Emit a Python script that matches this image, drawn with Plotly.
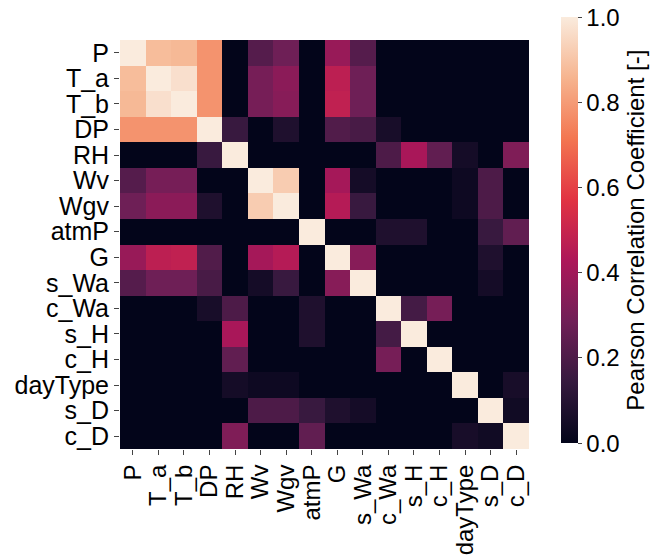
import plotly.graph_objects as go

labels = ["P", "T_a", "T_b", "DP", "RH", "Wv", "Wgv", "atmP", "G", "s_Wa",
          "c_Wa", "s_H", "c_H", "dayType", "s_D", "c_D"]

corr = [
    # P    T_a   T_b   DP    RH    Wv    Wgv   atmP  G     s_Wa  c_Wa  s_H   c_H   dayT  s_D   c_D
    [1.00, 0.88, 0.87, 0.78, 0.00, 0.22, 0.28, 0.00, 0.38, 0.22, 0.00, 0.00, 0.00, 0.00, 0.00, 0.00],  # P
    [0.88, 1.00, 0.97, 0.78, 0.00, 0.30, 0.35, 0.00, 0.47, 0.28, 0.00, 0.00, 0.00, 0.00, 0.00, 0.00],  # T_a
    [0.87, 0.97, 1.00, 0.78, 0.00, 0.30, 0.34, 0.00, 0.48, 0.28, 0.00, 0.00, 0.00, 0.00, 0.00, 0.00],  # T_b
    [0.78, 0.78, 0.78, 1.00, 0.15, 0.00, 0.08, 0.00, 0.21, 0.19, 0.06, 0.00, 0.00, 0.00, 0.00, 0.00],  # DP
    [0.00, 0.00, 0.00, 0.15, 1.00, 0.00, 0.00, 0.00, 0.00, 0.00, 0.20, 0.42, 0.25, 0.05, 0.00, 0.32],  # RH
    [0.22, 0.30, 0.30, 0.00, 0.00, 1.00, 0.92, 0.00, 0.41, 0.05, 0.00, 0.00, 0.00, 0.03, 0.20, 0.00],  # Wv
    [0.28, 0.35, 0.35, 0.08, 0.00, 0.92, 1.00, 0.00, 0.45, 0.15, 0.00, 0.00, 0.00, 0.03, 0.20, 0.00],  # Wgv
    [0.00, 0.00, 0.00, 0.00, 0.00, 0.00, 0.00, 1.00, 0.00, 0.00, 0.08, 0.08, 0.00, 0.00, 0.15, 0.25],  # atmP
    [0.38, 0.47, 0.48, 0.21, 0.00, 0.41, 0.45, 0.00, 1.00, 0.34, 0.00, 0.00, 0.00, 0.00, 0.08, 0.00],  # G
    [0.22, 0.28, 0.28, 0.19, 0.00, 0.05, 0.15, 0.00, 0.34, 1.00, 0.00, 0.00, 0.00, 0.00, 0.05, 0.00],  # s_Wa
    [0.00, 0.00, 0.00, 0.06, 0.20, 0.00, 0.00, 0.08, 0.00, 0.00, 1.00, 0.18, 0.30, 0.00, 0.00, 0.00],  # c_Wa
    [0.00, 0.00, 0.00, 0.00, 0.42, 0.00, 0.00, 0.08, 0.00, 0.00, 0.18, 1.00, 0.00, 0.00, 0.00, 0.00],  # s_H
    [0.00, 0.00, 0.00, 0.00, 0.25, 0.00, 0.00, 0.00, 0.00, 0.00, 0.30, 0.00, 1.00, 0.00, 0.00, 0.00],  # c_H
    [0.00, 0.00, 0.00, 0.00, 0.05, 0.03, 0.03, 0.00, 0.00, 0.00, 0.00, 0.00, 0.00, 1.00, 0.00, 0.06],  # dayType
    [0.00, 0.00, 0.00, 0.00, 0.00, 0.20, 0.20, 0.15, 0.08, 0.05, 0.00, 0.00, 0.00, 0.00, 1.00, 0.04],  # s_D
    [0.00, 0.00, 0.00, 0.00, 0.32, 0.00, 0.00, 0.25, 0.00, 0.00, 0.00, 0.00, 0.00, 0.06, 0.04, 1.00],  # c_D
]

colorbar_ticks = [0.0, 0.2, 0.4, 0.6, 0.8, 1.0]

rocket = [
    [0.0, "#03051a"],
    [1 / 7, "#35193e"],
    [2 / 7, "#701f57"],
    [3 / 7, "#ad1759"],
    [4 / 7, "#e13342"],
    [5 / 7, "#f37651"],
    [6 / 7, "#f6b48f"],
    [1.0, "#faebdd"],
]

FONT = "Liberation Sans, Arial, sans-serif"

fig = go.Figure(go.Heatmap(
    z=corr, x=labels, y=labels,
    zmin=0, zmax=1, colorscale=rocket,
    xgap=0, ygap=0,
    colorbar=dict(
        title=dict(text="Pearson Correlation Coefficient [-]", side="right",
                   font=dict(size=24, family=FONT, color="#000")),
        tickmode="array",
        tickvals=colorbar_ticks,
        ticktext=[f"{v:.1f}" for v in colorbar_ticks],
        tickfont=dict(size=24, family=FONT, color="#000"),
        ticks="outside", ticklen=4, tickcolor="#444",
        thickness=17, thicknessmode="pixels",
        len=426, lenmode="pixels",
        x=1.078, xanchor="left", xpad=0,
        y=0.535, yanchor="middle", ypad=0,
        outlinewidth=0,
    ),
))

fig.update_layout(
    width=668, height=557,
    margin=dict(l=120, r=139, t=40, b=108, autoexpand=False),
    paper_bgcolor="white", plot_bgcolor="white",
    font=dict(family=FONT, size=24, color="#000"),
    xaxis=dict(tickangle=-90, ticks="outside", ticklen=5, tickcolor="#444",
               tickmode="array", tickvals=labels, ticktext=labels,
               tickfont=dict(size=24), showgrid=False, zeroline=False,
               automargin=False, ticklabelstandoff=0),
    yaxis=dict(autorange="reversed", ticks="outside", ticklen=5, tickcolor="#444",
               tickmode="array", tickvals=labels, ticktext=labels,
               tickfont=dict(size=25), showgrid=False, zeroline=False,
               automargin=False, ticklabelstandoff=0),
)

fig.write_html("out.html",
               config={"displayModeBar": False},
               post_script="document.body.style.margin='0px';document.body.style.overflow='hidden';")
